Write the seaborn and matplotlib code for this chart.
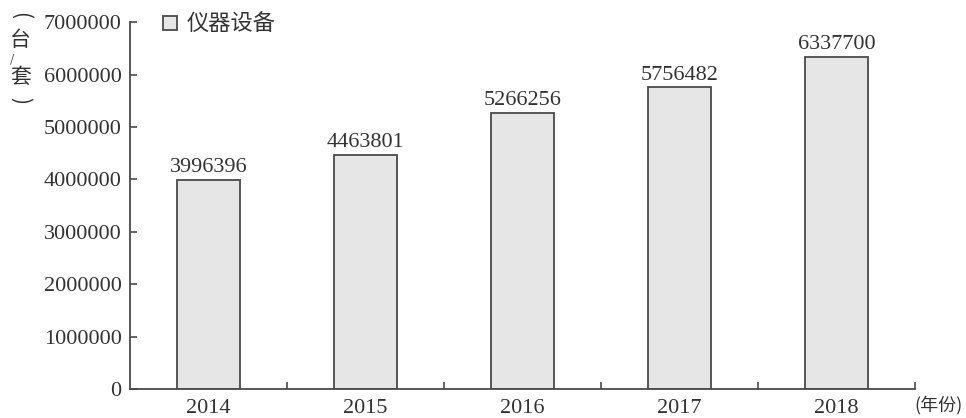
import pandas as pd
import matplotlib
matplotlib.use("Agg")
import matplotlib.pyplot as plt
import seaborn as sns
from matplotlib.ticker import FixedLocator

# Datos
years = ["2014", "2015", "2016", "2017", "2018"]
values = [3996396, 4463801, 5266256, 5756482, 6337700]
series_name = "仪器设备"
y_ticks = [0, 1000000, 2000000, 3000000, 4000000, 5000000, 6000000, 7000000]

df = pd.DataFrame({"year": years, "value": values})

sns.set_theme(style="white")
plt.rcParams['font.family'] = ['Liberation Serif', 'Noto Sans CJK SC']
plt.rcParams['axes.unicode_minus'] = False

ink = "#4a4a4a"
txt = "#333333"
cjk = ['Noto Sans CJK SC', 'DejaVu Sans']

fig = plt.figure(figsize=(9.66, 4.18), dpi=100)
ax = fig.add_axes([0.1346, 0.069, 0.8126, 0.878])

sns.barplot(data=df, x="year", y="value", color="#e6e6e6", edgecolor=ink,
            linewidth=1.3, width=0.4, saturation=1, label=series_name, ax=ax)

ax.bar_label(ax.containers[0], labels=[str(v) for v in values],
             padding=2, fontsize=16, color=txt)

ax.set_xlim(-0.5, 4.5)
ax.set_ylim(0, 7000000)
ax.set_yticks(y_ticks)
ax.set_yticklabels([str(t) for t in y_ticks])
ax.set_xlabel("")
ax.set_ylabel("")

for side in ["top", "right"]:
    ax.spines[side].set_visible(False)
for side in ["left", "bottom"]:
    ax.spines[side].set_color(ink)
    ax.spines[side].set_linewidth(1.3)

# ticks del eje y hacia adentro
ax.tick_params(axis="y", which="major", direction="in", length=5, width=1.2,
               color=ink, labelsize=16, labelcolor=txt, pad=6, left=True)
ax.tick_params(axis="x", which="major", length=0, labelsize=16,
               labelcolor=txt, pad=7)
ax.xaxis.set_minor_locator(FixedLocator([0.5, 1.5, 2.5, 3.5, 4.5]))
ax.tick_params(axis="x", which="minor", direction="in", length=5, width=1.2,
               color=ink, bottom=True)

leg = ax.legend(loc="upper left", bbox_to_anchor=(0.017, 1.074), frameon=False,
                handlelength=0.6, handleheight=0.6, handletextpad=0.45,
                prop={"size": 16})
for t in leg.get_texts():
    t.set_color(txt)

# etiqueta vertical (台/套)
fig.text(0.021, 0.962, "(", fontsize=15, color=txt, rotation=-90,
         ha="center", va="center", family=cjk)
fig.text(0.021, 0.905, "台", fontsize=15, color=txt,
         ha="center", va="center", family=cjk)
fig.text(0.012, 0.860, "/", fontsize=8, color=txt,
         ha="center", va="center", family=cjk)
fig.text(0.021, 0.815, "套", fontsize=15, color=txt,
         ha="center", va="center", family=cjk)
fig.text(0.021, 0.760, ")", fontsize=15, color=txt, rotation=-90,
         ha="center", va="center", family=cjk)

fig.text(0.997, 0.030, "(年份)", fontsize=13, color=txt,
         ha="right", va="center", family=cjk)

fig.savefig("out.png", dpi=100)
